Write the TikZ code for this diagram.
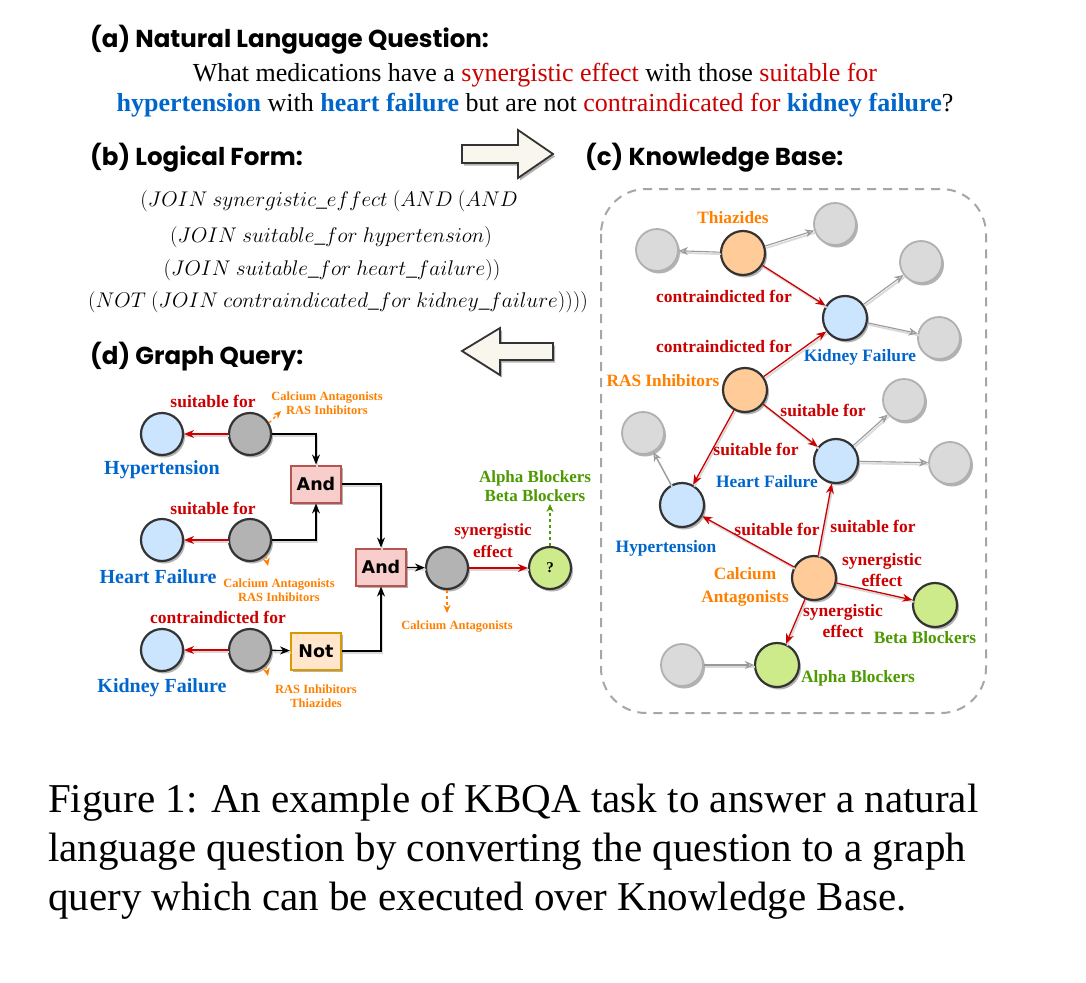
\RequirePackage{fix-cm}
\documentclass[tikz,border=0pt]{standalone}
\usepackage{fontspec}
\setmainfont{Liberation Serif}
\newfontfamily\headfont{Poppins}
\newfontfamily\boxfont{DejaVu Sans}
\usetikzlibrary{arrows.meta,shadows,calc}
\definecolor{myred}{HTML}{CC0000}
\definecolor{myorange}{HTML}{FF8000}
\definecolor{myblue}{HTML}{0066CC}
\definecolor{mygreen}{HTML}{4D9900}
\definecolor{fblue}{HTML}{CCE5FF}
\definecolor{forange}{HTML}{FFCC99}
\definecolor{fgreen}{HTML}{CDEB8B}
\definecolor{fgray}{HTML}{B3B3B3}
\definecolor{fkg}{HTML}{DADADA}
\definecolor{dkg}{HTML}{B0B0B0}
\definecolor{fand}{HTML}{F8CECC}
\definecolor{dand}{HTML}{B85450}
\definecolor{fnot}{HTML}{FFE6CC}
\definecolor{dnot}{HTML}{D79B00}
\definecolor{farrow}{HTML}{F9F7ED}
\definecolor{ndraw}{HTML}{333333}
\begin{document}
\begin{tikzpicture}[x=1pt,y=-1pt,
  heading/.style={font=\headfont\bfseries\fontsize{24.5}{28}\selectfont, anchor=west, inner sep=0pt},
  shd/.style={drop shadow={shadow xshift=2pt,shadow yshift=-2.5pt,opacity=0.3,fill=black}},
  qnode/.style={circle, minimum size=42pt, inner sep=0pt, line width=2.2pt, draw=ndraw, shd},
  bnode/.style={qnode, fill=fblue},
  onode/.style={qnode, fill=forange},
  gnode/.style={qnode, fill=fgreen},
  qgnode/.style={qnode, fill=fgray},
  kgnode/.style={circle, minimum size=42pt, inner sep=0pt, line width=1.8pt, draw=dkg, fill=fkg, shd},
  opbox/.style={rectangle, minimum width=50pt, minimum height=37pt, inner sep=0pt, line width=2pt, font=\boxfont\bfseries\fontsize{17.5}{18}\selectfont, shd},
  andbox/.style={opbox, fill=fand, draw=dand},
  notbox/.style={opbox, fill=fnot, draw=dnot},
  shline/.style={preaction={draw=black!15, line width=1.8pt, -, transform canvas={xshift=1.2pt,yshift=-2pt}}},
  redarr/.style={draw=myred, line width=1.3pt, -{Stealth[length=10pt,width=8pt]}, shline},
  blkarr/.style={draw=black, line width=1.3pt, -{Stealth[length=10pt,width=8pt]}, shline},
  grayarr/.style={draw=black!40, line width=1.1pt, -{Stealth[length=9pt,width=8pt,fill=black!15]}, shline},
  odash/.style={draw=myorange, line width=1.2pt, dashed, -{Stealth[length=8pt,width=7pt]}},
  gdash/.style={draw=mygreen, line width=1.2pt, dashed, -{Stealth[length=8pt,width=7pt]}},
  rlab/.style={font=\bfseries\fontsize{17.5}{21}\selectfont, text=myred, inner sep=0pt, align=center},
  blab/.style={font=\bfseries\fontsize{20}{22}\selectfont, text=myblue, inner sep=0pt},
  kblab/.style={font=\bfseries\fontsize{17.4}{19}\selectfont, text=myblue, inner sep=0pt},
  olab/.style={font=\bfseries\fontsize{12.5}{14.5}\selectfont, text=myorange, inner sep=0pt, align=center},
  kolab/.style={font=\bfseries\fontsize{17.3}{23}\selectfont, text=myorange, inner sep=0pt, align=center},
  grlab/.style={font=\bfseries\fontsize{17.3}{18}\selectfont, text=mygreen, inner sep=0pt, align=center},
  lf/.style={font=\fontsize{21.2}{25}\selectfont, inner sep=0pt},
  captxt/.style={font=\fontsize{41}{48}\selectfont, anchor=base west, inner sep=0pt}
]
\useasboundingbox[fill=white] (0,0) rectangle (1086,982);

% ---------- (a) ----------
\node[heading] (ha) at (90,40) {(a) Natural Language Question:};
\node[font=\fontsize{26}{30}\selectfont, inner sep=0pt] (q1) at (535,75)
  {What medications have a \textcolor{myred}{synergistic effect} with those \textcolor{myred}{suitable for}};
\node[font=\fontsize{26}{30}\selectfont, inner sep=0pt] (q2) at (535,105)
  {\textcolor{myblue}{\bfseries hypertension} with \textcolor{myblue}{\bfseries heart failure} but are not \textcolor{myred}{contraindicated for} \textcolor{myblue}{\bfseries kidney failure}?};

% ---------- (b) ----------
\node[heading] (hb) at (90,158) {(b) Logical Form:};
\node[lf] (l1) at (329,201) {$(JOIN\ synergistic\_effect\ (AND\ (AND$};
\node[lf] (l2) at (331,237) {$(JOIN\ suitable\_for\ hypertension)$};
\node[lf] (l3) at (332,270) {$(JOIN\ suitable\_for\ heart\_failure))$};
\node[lf] (l4) at (338,302) {$(NOT\ (JOIN\ contraindicated\_for\ kidney\_failure))))$};

% block arrows
\fill[farrow, draw=ndraw, line width=1.8pt, shd]
  (462,145) -- (518,145) -- (518,130) -- (553,154) -- (518,178) -- (518,163) -- (462,163) -- cycle;
\fill[farrow, draw=ndraw, line width=1.8pt, shd]
  (553,343) -- (500,343) -- (500,328) -- (462,351) -- (500,375) -- (500,360) -- (553,360) -- cycle;

% ---------- (c) ----------
\node[heading] (hc) at (585,158) {(c) Knowledge Base:};
\draw[black!35, line width=2pt, dash pattern=on 9pt off 7pt, rounded corners=45pt]
  (601,189) rectangle (986,713);

% KB nodes
\node[kgnode] (k1) at (657,250) {};
\node[onode, minimum size=44pt] (thz) at (743,253) {};
\node[kgnode] (k2) at (835,224) {};
\node[bnode, minimum size=44pt] (kkid) at (845,318) {};
\node[kgnode] (k3) at (921,262) {};
\node[kgnode] (k4) at (939,338) {};
\node[onode, minimum size=44pt] (kras) at (745,390) {};
\node[kgnode] (k5) at (904,400) {};
\node[bnode, minimum size=44pt] (kheart) at (836,461) {};
\node[kgnode] (k6) at (950,463) {};
\node[kgnode] (k7) at (643,433) {};
\node[bnode, minimum size=44pt] (khyp) at (682,505) {};
\node[onode, minimum size=44pt] (kcal) at (814,578) {};
\node[gnode, minimum size=44pt] (kbeta) at (935,605) {};
\node[gnode, minimum size=44pt] (kalpha) at (777,665) {};
\node[kgnode] (k8) at (682,665) {};

% KB labels
\node[kolab] (lthz) at (733,218) {Thiazides};
\node[kblab] (lkid) at (860,357) {Kidney Failure};
\node[kolab] (lras) at (663,381) {RAS Inhibitors};
\node[kblab] (lheart) at (767,482) {Heart Failure};
\node[kblab] (lhyp) at (666,548) {Hypertension};
\node[kolab] (lcal) at (745,587) {Calcium\\Antagonists};
\node[grlab] (lbeta) at (925,638) {Beta Blockers};
\node[grlab] (lalpha) at (858,678) {Alpha Blockers};

% KB edges
\draw[grayarr] (thz) -- (k1);
\draw[grayarr] (thz) -- (k2);
\draw[redarr] (thz) -- (kkid);
\draw[grayarr] (kkid) -- (k3);
\draw[grayarr] (kkid) -- (k4);
\draw[redarr] (kras) -- (kkid);
\draw[redarr] (kras) -- (kheart);
\draw[redarr] (kras) -- (khyp);
\draw[grayarr] (kheart) -- (k5);
\draw[grayarr] (kheart) -- (k6);
\draw[grayarr] (khyp) -- (k7);
\draw[redarr] (kcal) -- (khyp);
\draw[redarr] (kcal) -- (kheart);
\draw[redarr] (kcal) -- (kbeta);
\draw[redarr] (kcal) -- (kalpha);
\draw[grayarr] (k8) -- (kalpha);

\node[rlab] (e1) at (724,296) {contraindicted for};
\node[rlab] (e2) at (724,346) {contraindicted for};
\node[rlab] (e3) at (823,410) {suitable for};
\node[rlab] (e4) at (756,449) {suitable for};
\node[rlab] (e5) at (777,529) {suitable for};
\node[rlab] (e6) at (873,526) {suitable for};
\node[rlab] (e7) at (882,570) {synergistic\\effect};
\node[rlab] (e8) at (843,621) {synergistic\\effect};

% ---------- (d) ----------
\node[heading] (hd) at (90,357) {(d) Graph Query:};

\node[bnode] (qhyp) at (162,434) {};
\node[qgnode] (g1) at (250,434) {};
\node[bnode] (qheart) at (162,540) {};
\node[qgnode] (g2) at (250,540) {};
\node[bnode] (qkid) at (162,650) {};
\node[qgnode] (g3) at (250,650) {};
\node[andbox] (and1) at (316,484) {And};
\node[notbox] (not) at (316,651) {Not};
\node[andbox] (and2) at (381,567) {And};
\node[qgnode] (g4) at (447,568) {};
\node[gnode] (ans) at (550,568) {\bfseries\fontsize{15}{16}\selectfont ?};

\node[rlab] (s1) at (213,401) {suitable for};
\node[rlab] (s2) at (213,508) {suitable for};
\node[rlab] (s3) at (218,617) {contraindicted for};
\node[rlab, font=\bfseries\fontsize{17}{22}\selectfont] (s4) at (493,541) {synergistic\\effect};

\node[blab] (lqhyp) at (162,470) {Hypertension};
\node[blab] (lqheart) at (158,577) {Heart Failure};
\node[blab] (lqkid) at (162,688) {Kidney Failure};

\node[olab] (o1) at (327,403) {Calcium Antagonists\\RAS Inhibitors};
\node[olab] (o2) at (279,590) {Calcium Antagonists\\RAS Inhibitors};
\node[olab] (o3) at (316,696) {RAS Inhibitors\\Thiazides};
\node[olab] (o4) at (457,627) {Calcium Antagonists};
\node[grlab, font=\bfseries\fontsize{17}{19}\selectfont] (o5) at (535,486) {Alpha Blockers\\Beta Blockers};

\draw[redarr] (g1) -- (qhyp);
\draw[redarr] (g2) -- (qheart);
\draw[redarr] (g3) -- (qkid);
\draw[blkarr] (g1.east) -| (and1.north);
\draw[blkarr] (g2.east) -| (and1.south);
\draw[blkarr] (g3) -- (not);
\draw[blkarr] (and1.east) -| (and2.north);
\draw[blkarr] (not.east) -| (and2.south);
\draw[blkarr] (and2) -- (g4);
\draw[redarr] (g4) -- (ans);

\coordinate (c1) at (281,411);
\coordinate (c2) at (268,566);
\coordinate (c3) at (268,676);
\coordinate (c4) at (447,613);
\coordinate (c5) at (550,504);
\draw[odash] (g1.30) -- (c1);
\draw[odash] (g2.-45) -- (c2);
\draw[odash] (g3.-45) -- (c3);
\draw[odash] (g4.south) -- (c4);
\draw[gdash] (ans.north) -- (c5);

% ---------- caption ----------
\node[captxt] (cp1) at (48,812) {Figure 1: An example of KBQA task to answer a natural};
\node[captxt] (cp2) at (48,861) {language question by converting the question to a graph};
\node[captxt] (cp3) at (48,910) {query which can be executed over Knowledge Base.};
\end{tikzpicture}
\end{document}
